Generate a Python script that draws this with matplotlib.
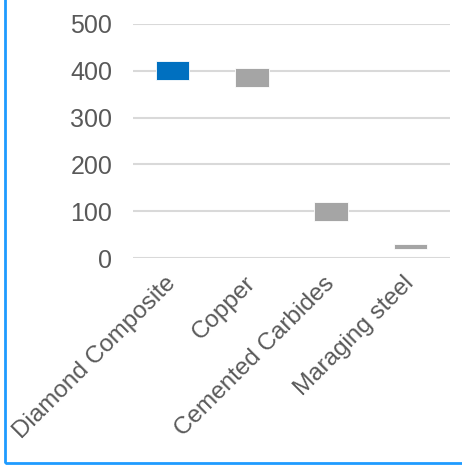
import matplotlib.pyplot as plt
from matplotlib.patches import Rectangle

plt.rcParams['font.family'] = ['Liberation Sans', 'DejaVu Sans']

# faixa de valores por material (mínimo e máximo)
materiais = ['Diamond Composite', 'Copper', 'Cemented Carbides', 'Maraging steel']
minimos = [380, 365, 80, 20]
maximos = [420, 405, 120, 30]
cores = ['#0070C0', '#A5A5A5', '#A5A5A5', '#A5A5A5']
ticks_y = [0, 100, 200, 300, 400, 500]

fig = plt.figure(figsize=(4.62, 4.66), dpi=100)
ax = fig.add_axes([133 / 462, 208 / 466, 317 / 462, 234 / 466])

alturas = [hi - lo for lo, hi in zip(minimos, maximos)]
ax.bar(range(len(materiais)), alturas, bottom=minimos, width=0.42,
       color=cores, edgecolor='white', linewidth=0.6, zorder=3)

ax.set_xlim(-0.5, len(materiais) - 0.5)
ax.set_ylim(0, 500)
ax.set_yticks(ticks_y)
ax.grid(axis='y', color='#D9D9D9', linewidth=1.5, zorder=0)
for s in ax.spines.values():
    s.set_visible(False)

ax.tick_params(axis='y', length=0, pad=15, labelsize=18, labelcolor='#595959')
ax.tick_params(axis='x', length=0, pad=16, labelsize=17.5, labelcolor='#595959')
ax.set_xticks(range(len(materiais)))
ax.set_xticklabels(materiais, rotation=45, ha='right', va='center',
                   rotation_mode='anchor')

# moldura azul (só esquerda e baixo visíveis)
fig.patches.append(Rectangle((5 / 462, 3.5 / 466), 1.2, 1.2, transform=fig.transFigure,
                             fill=False, edgecolor='#1E9BFF', linewidth=2))

fig.savefig('out.png', dpi=100)
